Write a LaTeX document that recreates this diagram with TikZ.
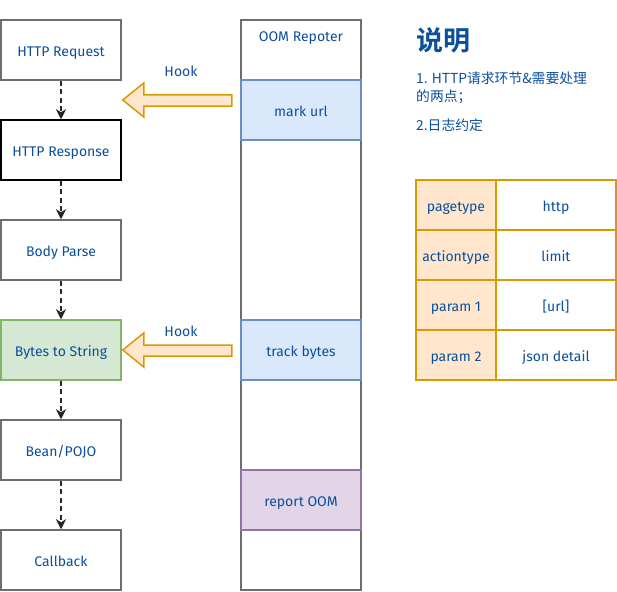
\documentclass[tikz,border=0pt]{standalone}
\usepackage{fontspec}
\setmainfont{Fira Sans}
\newfontfamily\cjk{Noto Sans CJK SC}
\newfontfamily\cjkb{Noto Sans CJK SC Bold}
\usetikzlibrary{arrows.meta,calc}
\definecolor{txt}{HTML}{0B4F9C}
\definecolor{grayb}{HTML}{6E6E6E}
\definecolor{orf}{HTML}{FFE6CC}
\definecolor{orb}{HTML}{D79B00}
\definecolor{blf}{HTML}{DAE8FC}
\definecolor{blb}{HTML}{6C8EBF}
\definecolor{grf}{HTML}{D5E8D4}
\definecolor{grb}{HTML}{82B366}
\definecolor{puf}{HTML}{E1D5E7}
\definecolor{pub}{HTML}{9673A6}
\tikzset{
  lbl/.style={text=txt,font=\fontsize{14}{16}\selectfont,text height=13pt,text depth=0pt},
  flowbox/.style={lbl,draw=grayb,line width=1.5pt,fill=white,minimum width=120pt,minimum height=60pt,inner sep=0pt},
  sidebox/.style={lbl,draw=blb,line width=1.5pt,fill=blf,minimum width=120pt,minimum height=60pt,inner sep=0pt},
  flowarrow/.style={draw=black!85,line width=1.6pt,dash pattern=on 5pt off 3.5pt,-{Stealth[length=10pt,width=10pt,inset=3pt]}},
  blockarrow/.style={draw=orb,fill=orf,line width=1.5pt,line join=miter},
  cellk/.style={lbl,draw=orb,line width=2pt,fill=orf,minimum width=80pt,minimum height=50pt,inner sep=0pt},
  cellv/.style={lbl,draw=orb,line width=2pt,fill=white,minimum width=120pt,minimum height=50pt,inner sep=0pt},
}
\begin{document}
\begin{tikzpicture}[x=1pt,y=-1pt]
\useasboundingbox (0,0) rectangle (617,591);
% right column
\node[draw=grayb,line width=1.5pt,minimum width=120pt,minimum height=570pt,inner sep=0pt] (oom) at (301,305) {};
\node[lbl] (oomt) at (301,35) {OOM Repoter};
\node[sidebox] (mark) at (301,110) {mark url};
\node[sidebox] (track) at (301,350) {track bytes};
\node[sidebox,draw=pub,fill=puf] (report) at (301,500) {report OOM};
% left flow
\node[flowbox] (req) at (61,50) {HTTP Request};
\node[flowbox,draw=black] (resp) at (61,150) {HTTP Response};
\node[flowbox] (body) at (61,250) {Body Parse};
\node[flowbox,draw=grb,fill=grf] (bytes) at (61,350) {Bytes to String};
\node[flowbox] (bean) at (61,450) {Bean/POJO};
\node[flowbox] (cb) at (61,560) {Callback};
\draw[flowarrow] (req.south) -- (resp.north);
\draw[flowarrow] (resp.south) -- (body.north);
\draw[flowarrow] (body.south) -- (bytes.north);
\draw[flowarrow] (bytes.south) -- (bean.north);
\draw[flowarrow] (bean.south) -- (cb.north);
% hook arrows
\draw[blockarrow] ($(req.east)+(1,50)$) -- ++(21,-17) -- ++(0,12) -- ++(88,0) -- ++(0,11) -- ++(-88,0) -- ++(0,11) -- cycle;
\node[lbl] (hook1) at (181,70) {Hook};
\draw[blockarrow] ($(bytes.east)+(1,0)$) -- ++(21,-17) -- ++(0,12) -- ++(88,0) -- ++(0,11) -- ++(-88,0) -- ++(0,11) -- cycle;
\node[lbl] (hook2) at (181,330) {Hook};
% notes
\node[anchor=west,text=txt,font=\cjkb\fontsize{27}{30}\selectfont,inner sep=0pt] (title) at (416,40) {说明};
\node[anchor=north west,text=txt,font=\cjk\fontsize{13.8}{17.5}\selectfont,inner sep=0pt,align=left] (n1) at (416,72) {1. HTTP请求环节\&需要处理\\的两点；};
\node[anchor=north west,text=txt,font=\cjk\fontsize{13.8}{17.5}\selectfont,inner sep=0pt] (n2) at (416,119) {2.日志约定};
% table
\node[cellk] (k1) at (456,205) {pagetype};
\node[cellv] (v1) at (556,205) {http};
\node[cellk] (k2) at (456,255) {actiontype};
\node[cellv] (v2) at (556,255) {limit};
\node[cellk] (k3) at (456,305) {param 1};
\node[cellv] (v3) at (556,305) {[url]};
\node[cellk] (k4) at (456,355) {param 2};
\node[cellv] (v4) at (556,355) {json detail};
\end{tikzpicture}
\end{document}
